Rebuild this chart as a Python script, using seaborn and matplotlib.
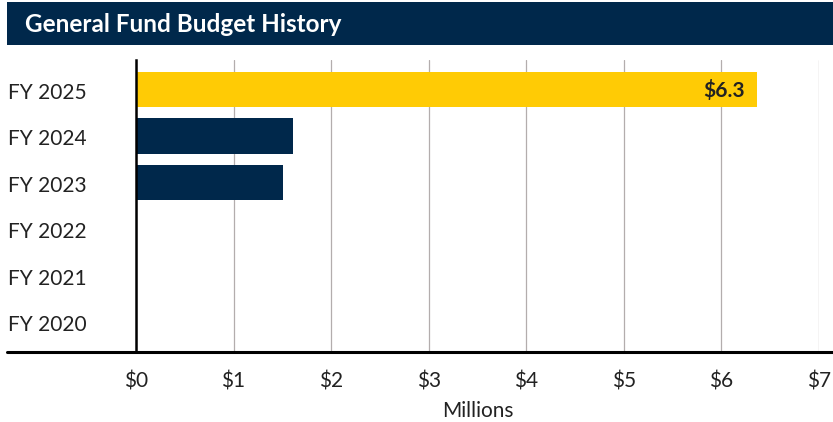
import numpy as np
import pandas as pd
import matplotlib.pyplot as plt
import matplotlib.transforms as mtransforms
import seaborn as sns

years = ["FY 2025", "FY 2024", "FY 2023", "FY 2022", "FY 2021", "FY 2020"]
budget = [6.36, 1.61, 1.51, 0, 0, 0]
value_labels = ["$6.3", "", "", "", "", ""]
bar_colors = ["#FFCB05", "#00284B", "#00284B", "#00284B", "#00284B", "#00284B"]
xticks = [0, 1, 2, 3, 4, 5, 6, 7]
xlabels = ["$0", "$1", "$2", "$3", "$4", "$5", "$6", "$7"]

sns.set_style("white")
plt.rcParams['font.family'] = ['Lato', 'DejaVu Sans']

df = pd.DataFrame({"year": years, "budget": budget})

fig = plt.figure(figsize=(8.33, 4.22), dpi=100)
ax = fig.add_axes([136/833, 1-352/422, (819-136)/833, (352-60)/422])

sns.barplot(data=df, y="year", x="budget", hue="year", palette=bar_colors,
            legend=False, width=0.76, ax=ax, zorder=3, saturation=1, linewidth=0)

ax.set_xlim(0, 7)
ax.set_ylim(5.645, -0.634)
ax.set_xticks(xticks)
ax.set_xticklabels(xlabels, fontsize=15, color="#222222")
ax.tick_params(axis="x", length=0, pad=14)
ax.set_yticklabels([])
ax.tick_params(axis="y", length=0)
ax.set_ylabel("")
ax.set_xlabel("Millions", fontsize=15, color="#222222", labelpad=7)
ax.grid(axis="x", color="#B3ADAD", linewidth=0.9, zorder=0)
for s in ["top", "right", "bottom"]:
    ax.spines[s].set_visible(False)
ax.spines["left"].set_color("black")
ax.spines["left"].set_linewidth(1.8)
ax.spines["left"].set_zorder(6)

# category labels, left aligned at page margin (sit a touch below bar centre)
trans = mtransforms.blended_transform_factory(fig.transFigure, ax.transData)
for i, y in enumerate(years):
    ax.text(8/833, i + 0.07, y, transform=trans, ha="left", va="center",
            fontsize=15, color="#222222")

# value labels inside bars
for i, lab in enumerate(value_labels):
    if lab:
        ax.text(budget[i] - 0.12, i + 0.03, lab, ha="right", va="center", fontsize=15,
                fontweight="bold", color="#222222", zorder=4)

# bottom rule spanning the page
fig.add_artist(plt.Line2D([7/833, 1], [1-352/422, 1-352/422], color="black", linewidth=2.2))

# title band
fig.patches.append(plt.Rectangle((7/833, 1-45/422), 1-7/833, 43/422, transform=fig.transFigure,
                                 facecolor="#00284B", edgecolor="none", figure=fig))
fig.text(25/833, 1-24/422, "General Fund Budget History", color="white", fontsize=17.5,
         fontweight="bold", va="center", ha="left")

plt.savefig("out.png", dpi=100)
